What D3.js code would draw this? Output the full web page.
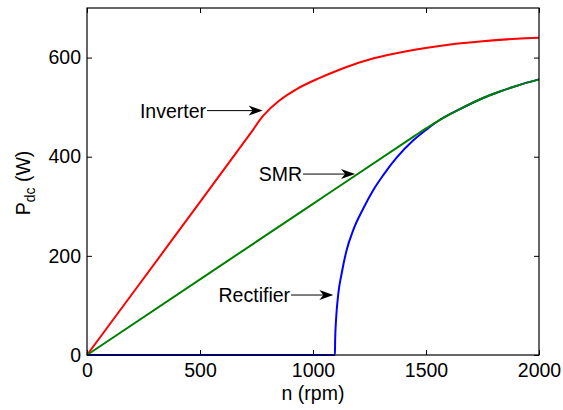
<!DOCTYPE html>
<html><head><meta charset="utf-8">
<script src="https://cdn.jsdelivr.net/npm/d3@7"></script>
<style>
body{margin:0;background:#fff;}
text{font-family:"Liberation Sans",Arial,Helvetica,sans-serif;}
</style></head>
<body><svg id="c" width="563" height="410"></svg>
<script>
// data
const xTicks = [0, 500, 1000, 1500, 2000];
const yTicks = [0, 200, 400, 600];
const inverterN = [0, 360, 720, 780, 850, 930, 1020, 1120, 1220, 1330, 1450, 1600, 1750, 1900, 2000];
const inverterP = [0, 222, 445, 483, 513, 537, 557, 576, 592, 605, 616, 626, 633, 638, 640];
const smrN = [0, 1000, 1450, 1500, 1560, 1650, 1740, 1830, 1915, 2000];
const smrP = [0, 305, 442, 457, 474, 496, 516, 532, 545, 556];
const rectN = [0, 1097, 1098, 1102, 1112, 1127, 1149, 1178, 1223, 1267, 1311, 1370, 1444, 1503, 1560, 1650, 1740, 1830, 1915, 2000];
const rectP = [0, 0, 30, 71, 124, 165, 212, 252, 296, 333, 363, 398, 433, 455, 474, 496, 516, 532, 545, 556];
const labels = ["Inverter", "SMR", "Rectifier"];
const labelTipN = [777, 1186, 1090];
const labelTipP = [493, 365, 121];
const labelTailN = [531, 956, 903];

const svg = d3.select("#c");
const L = 87, R = 539, T = 8, B = 355;
const x = d3.scaleLinear().domain([0, 2000]).range([L, R]);
const y = d3.scaleLinear().domain([0, 700]).range([B, T]);

const axisColor = "#000";
function styleAxis(g){
  g.select(".domain").remove();
  g.selectAll(".tick line").attr("stroke", axisColor).attr("stroke-width", 1);
  g.selectAll(".tick text").attr("font-size", 19.5).attr("fill", "#000")
   .attr("font-family", "'Liberation Sans',Arial,Helvetica,sans-serif");
}
svg.append("g").attr("transform", `translate(0,${B})`)
  .call(d3.axisBottom(x).tickValues(xTicks).tickSize(-5).tickPadding(8).tickFormat(d3.format("d")))
  .call(styleAxis);
svg.append("g").attr("transform", `translate(0,${T})`)
  .call(d3.axisTop(x).tickValues(xTicks).tickSize(-5).tickFormat(""))
  .call(styleAxis);
svg.append("g").attr("transform", `translate(${L},0)`)
  .call(d3.axisLeft(y).tickValues(yTicks).tickSize(-5).tickPadding(6).tickFormat(d3.format("d")))
  .call(styleAxis);
svg.append("g").attr("transform", `translate(${R},0)`)
  .call(d3.axisRight(y).tickValues(yTicks).tickSize(-5).tickFormat(""))
  .call(styleAxis);

function series(ns, ps, color, curve){
  const line = d3.line().x(d => x(d[0])).y(d => y(d[1])).curve(curve);
  svg.append("path").datum(ns.map((n, i) => [n, ps[i]]))
    .attr("d", line).attr("fill", "none").attr("stroke", color).attr("stroke-width", 2);
}
series(inverterN, inverterP, "#ff0000", d3.curveCatmullRom.alpha(0.5));
series(rectN, rectP, "#0000ff", d3.curveMonotoneX);
series(smrN, smrP, "#008000", d3.curveCatmullRom.alpha(0.5));

svg.append("rect").attr("x", L).attr("y", T).attr("width", R - L).attr("height", B - T)
  .attr("fill", "none").attr("stroke", axisColor).attr("stroke-width", 1.2);

labels.forEach((lab, i) => {
  const tx = x(labelTipN[i]), ty = y(labelTipP[i]), sx = x(labelTailN[i]);
  svg.append("line").attr("x1", sx).attr("y1", ty).attr("x2", tx - 8).attr("y2", ty)
    .attr("stroke", "#000").attr("stroke-width", 1);
  svg.append("path")
    .attr("d", `M${tx},${ty} L${tx - 14},${ty - 5} L${tx - 10},${ty} L${tx - 14},${ty + 5} Z`)
    .attr("fill", "#000");
  svg.append("text").attr("x", sx - 1).attr("y", ty + 7).attr("text-anchor", "end")
    .attr("font-size", 19.5).attr("fill", "#000").text(lab);
});

svg.append("text").attr("x", (L + R) / 2).attr("y", 400).attr("text-anchor", "middle")
  .attr("font-size", 19.5).text("n (rpm)");
const yl = svg.append("text").attr("transform", "translate(30,183) rotate(-90)")
  .attr("text-anchor", "middle").attr("font-size", 19.5);
yl.append("tspan").text("P");
yl.append("tspan").attr("font-size", 14).attr("dy", 5).text("dc");
yl.append("tspan").attr("dy", -5).text(" (W)");
</script></body></html>
